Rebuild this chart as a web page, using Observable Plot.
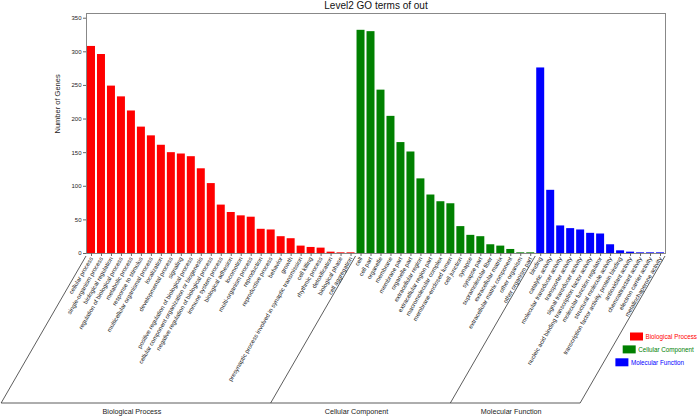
<!DOCTYPE html>
<html><head><meta charset="utf-8">
<script src="https://cdn.jsdelivr.net/npm/d3@7"></script>
<script src="https://cdn.jsdelivr.net/npm/@observablehq/plot@0.6"></script>
<style>
html,body{margin:0;padding:0;background:#fff;}
#chart{position:relative;width:700px;height:417px;}
</style></head><body><div id="chart"></div>
<script>
const title = "Level2 GO terms of out";
const yLabel = "Number of Genes";
const categories = ["Biological Process", "Cellular Component", "Molecular Function"];
const categoryColors = ["#ff0000", "#008000", "#0000ff"];

const bpTerms = ["cellular process", "single-organism process", "biological regulation", "regulation of biological process", "metabolic process", "response to stimulus", "multicellular organismal process", "localization", "developmental process", "signaling", "positive regulation of biological process", "cellular component organization or biogenesis", "negative regulation of biological process", "immune system process", "biological adhesion", "locomotion", "multi-organism process", "reproduction", "reproductive process", "behavior", "growth", "presynaptic process involved in synaptic transmission", "cell killing", "rhythmic process", "detoxification", "biological phase", "cell aggregation"];
const bpCounts = [308, 296, 249, 233, 212, 188, 175, 161, 150, 148, 144, 126, 104, 72, 61, 56, 54, 36, 35, 25, 22, 11, 9, 8, 2, 1, 1];

const ccTerms = ["cell", "cell part", "organelle", "membrane", "membrane part", "organelle part", "extracellular region", "extracellular region part", "macromolecular complex", "membrane-enclosed lumen", "cell junction", "synapse", "synapse part", "supramolecular fiber", "extracellular matrix", "extracellular matrix component", "other organism", "other organism part"];
const ccCounts = [332, 330, 243, 204, 165, 151, 111, 87, 77, 74, 40, 27, 25, 13, 11, 6, 1, 1];

const mfTerms = ["binding", "catalytic activity", "molecular transducer activity", "transporter activity", "signal transducer activity", "nucleic acid binding transcription factor activity", "molecular function regulator", "structural molecule activity", "transcription factor activity, protein binding", "antioxidant activity", "chemoattractant activity", "electron carrier activity", "metallochaperone activity"];
const mfCounts = [276, 94, 41, 37, 35, 30, 29, 13, 4, 2, 1, 1, 1];

const yTicks = [0, 50, 100, 150, 200, 250, 300, 350];

const groups = [bpTerms, ccTerms, mfTerms];
const counts = [bpCounts, ccCounts, mfCounts];
const data = groups.flatMap((terms, g) => terms.map((t, i) => ({term: t, value: counts[g][i], category: categories[g]})));
const allTerms = groups.flat();

const font = "'Liberation Sans', Arial, Helvetica, sans-serif";

const plot = Plot.plot({
  width: 700, height: 417,
  marginLeft: 86, marginRight: 35, marginTop: 13, marginBottom: 164,
  style: {fontFamily: font, background: "#fff", color: "#222"},
  x: {domain: allTerms, paddingInner: 0.2, paddingOuter: 0.1, label: null},
  y: {domain: [0, 357], label: null},
  color: {domain: categories, range: categoryColors},
  marks: [
    Plot.barY(data, {x: "term", y: "value", fill: "category"}),
    Plot.frame({stroke: "#888"}),
    Plot.axisY(yTicks, {tickSize: 3, tickPadding: 2, fontSize: 6, label: null, stroke: "#666"}),
    Plot.axisX({tickRotate: -60, tickSize: 3, tickPadding: 1, fontSize: 6, label: null, textAnchor: "end", lineAnchor: "middle", stroke: "#666"}),
    Plot.text([title], {frameAnchor: "top", dy: -12, fontSize: 10, fill: "#111"}),
    Plot.text([yLabel], {frameAnchor: "left", dx: -29, rotate: -90, fontSize: 7.5, fill: "#222"})
  ]
});
document.getElementById("chart").appendChild(plot);

// Group brackets under the tick labels, derived from the x scale
const svg = d3.select(plot);
const xs = plot.scale("x");
const bw = xs.bandwidth;
const left = xs.range[0], right = xs.range[1];
const yTop = 256, yBot = 403;
const shift = (yBot - yTop) / Math.tan(60 * Math.PI / 180);
const bounds = [left];
for (let g = 0; g < groups.length - 1; g++) {
  const last = groups[g][groups[g].length - 1];
  const first = groups[g + 1][0];
  bounds.push((xs.apply(last) + bw + xs.apply(first)) / 2);
}
bounds.push(right);
const gb = svg.append("g").attr("stroke", "#333").attr("stroke-width", 0.8).attr("fill", "none");
bounds.forEach(b => gb.append("line").attr("x1", b).attr("y1", yTop).attr("x2", b - shift).attr("y2", yBot));
gb.append("line").attr("x1", bounds[0] - shift).attr("y1", yBot).attr("x2", bounds[bounds.length - 1] - shift).attr("y2", yBot);
const gt = svg.append("g").attr("font-family", font).attr("font-size", 7.2).attr("fill", "#222").attr("text-anchor", "middle");
categories.forEach((c, i) => {
  gt.append("text").attr("x", (bounds[i] + bounds[i + 1]) / 2 - shift - 4).attr("y", yBot + 11).text(c);
});

// Legend (staircase)
const lg = svg.append("g").attr("font-family", font).attr("font-size", 6.3).attr("text-anchor", "start");
categories.forEach((c, i) => {
  const x0 = 630 - i * 7.3, y0 = 332.5 + i * 12.9;
  lg.append("rect").attr("x", x0).attr("y", y0).attr("width", 13).attr("height", 8).attr("fill", categoryColors[i]);
  lg.append("text").attr("x", x0 + 15.5).attr("y", y0 + 6.5).attr("fill", categoryColors[i]).text(c);
});
</script></body></html>
